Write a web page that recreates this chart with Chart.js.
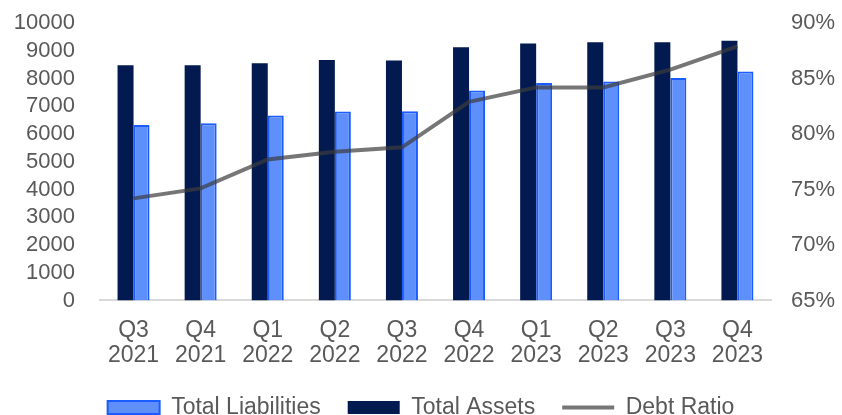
<!DOCTYPE html>
<html>
<head>
<meta charset="utf-8">
<script src="https://cdn.jsdelivr.net/npm/chart.js@4/dist/chart.umd.min.js"></script>
<style>
  html, body { margin: 0; padding: 0; background: #fff; overflow: hidden; }
  #wrap { width: 842px; height: 429px; }
</style>
</head>
<body>
<div id="wrap"><canvas id="chart"></canvas></div>
<script>
// values
const quarters = [
  ["Q3", "2021"], ["Q4", "2021"], ["Q1", "2022"], ["Q2", "2022"], ["Q3", "2022"],
  ["Q4", "2022"], ["Q1", "2023"], ["Q2", "2023"], ["Q3", "2023"], ["Q4", "2023"],
];
const totalAssets = [8480, 8480, 8550, 8670, 8650, 9130, 9260, 9310, 9310, 9360];
const totalLiabilities = [6320, 6390, 6670, 6810, 6820, 7570, 7840, 7890, 8020, 8250];
const debtRatio = [74.2, 75.1, 77.7, 78.4, 78.8, 82.9, 84.2, 84.2, 85.8, 87.9];
const legendOrder = ["Total Liabilities", "Total Assets", "Debt Ratio"];

const textColor = "#595959";
const fontFamily = "'Liberation Sans', Arial, sans-serif";

// fixed side widths, and no extra room reserved for half-labels
function fitSide(width) {
  return (scale) => {
    scale.width = width;
    scale.paddingTop = 0;
    scale.paddingBottom = 0;
  };
}

const Chart = window.Chart;
new Chart(document.getElementById("chart").getContext("2d"), {
  data: {
    labels: quarters,
    datasets: [
      {
        type: "bar",
        label: "Total Assets",
        data: totalAssets,
        backgroundColor: "#021a4f",
        borderWidth: 0,
        yAxisID: "y",
        order: 1,
      },
      {
        type: "bar",
        label: "Total Liabilities",
        data: totalLiabilities,
        backgroundColor: "#5f8ffb",
        borderColor: "#1a5cff",
        borderWidth: 2,
        yAxisID: "y",
        order: 1,
      },
      {
        type: "line",
        label: "Debt Ratio",
        data: debtRatio,
        borderColor: "rgba(60, 60, 60, 0.7)",
        backgroundColor: "rgba(60, 60, 60, 0.7)",
        borderWidth: 4,
        pointRadius: 0,
        tension: 0,
        yAxisID: "y1",
        order: 0,
      },
    ],
  },
  options: {
    responsive: true,
    maintainAspectRatio: false,
    animation: false,
    datasets: {
      bar: { barPercentage: 1, categoryPercentage: 0.477 },
    },
    layout: { padding: { top: 23, left: 0, right: 0, bottom: 0 } },
    plugins: {
      tooltip: { enabled: false },
      legend: {
        position: "bottom",
        labels: {
          color: textColor,
          font: { family: fontFamily, size: 23 },
          usePointStyle: true,
          pointStyleWidth: 52,
          boxHeight: 13,
          padding: 27,
          generateLabels: (chart) => {
            const items = Chart.defaults.plugins.legend.labels.generateLabels(chart);
            items.forEach((item) => {
              item.pointStyle = item.text === "Debt Ratio" ? "line" : "rect";
              if (item.text === "Debt Ratio") item.strokeStyle = "rgba(60, 60, 60, 0.7)";
            });
            return items;
          },
          sort: (a, b) => legendOrder.indexOf(a.text) - legendOrder.indexOf(b.text),
        },
      },
    },
    scales: {
      x: {
        grid: { display: false },
        border: { display: true, color: "#d9d9d9", width: 2 },
        ticks: {
          color: textColor,
          font: { family: fontFamily, size: 23, lineHeight: 1.12 },
          maxRotation: 0,
          autoSkip: false,
          padding: 9,
        },
        // pull the legend closer to the tick labels
        afterFit: (scale) => {
          scale.height -= 9;
          scale.paddingLeft = 0;
          scale.paddingRight = 0;
        },
      },
      y: {
        position: "left",
        min: 0,
        max: 10000,
        grid: { display: false },
        border: { display: false },
        ticks: {
          stepSize: 1000,
          autoSkip: false,
          color: textColor,
          font: { family: fontFamily, size: 22 },
          padding: 17,
          callback: (v) => String(v),
        },
        afterFit: fitSide(100),
      },
      y1: {
        position: "right",
        min: 65,
        max: 90,
        grid: { display: false },
        border: { display: false },
        ticks: {
          stepSize: 5,
          autoSkip: false,
          color: textColor,
          font: { family: fontFamily, size: 22 },
          padding: 12,
          callback: (v) => v + "%",
        },
        afterFit: fitSide(71),
      },
    },
  },
});
</script>
</body>
</html>
